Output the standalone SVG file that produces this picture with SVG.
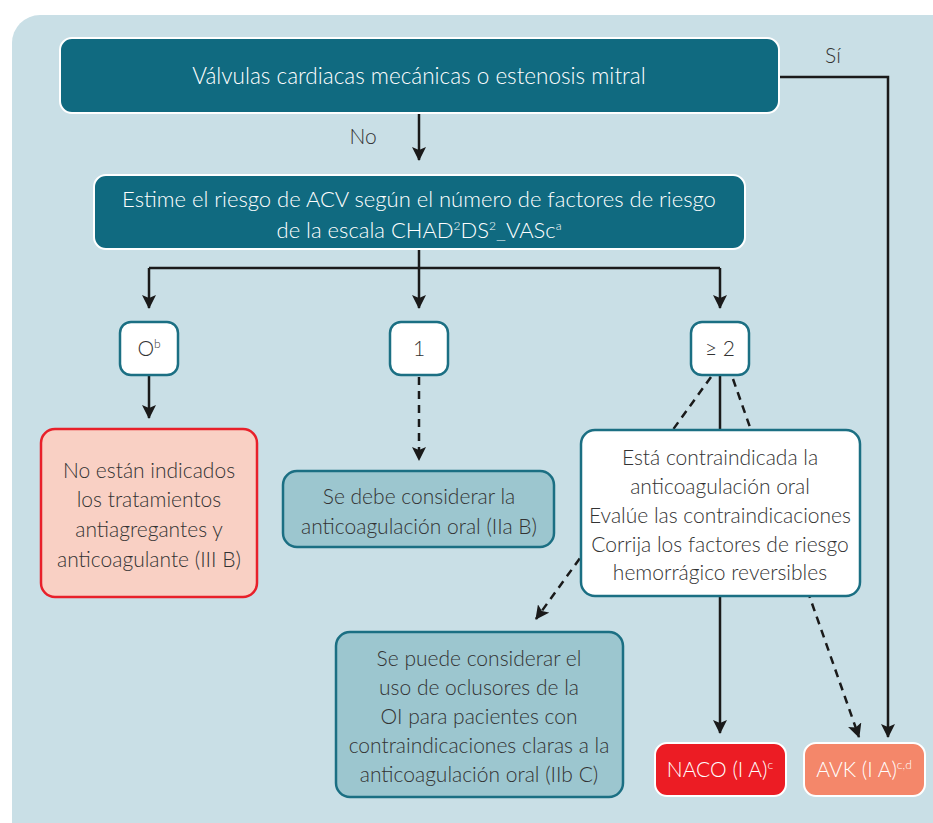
<svg xmlns="http://www.w3.org/2000/svg" width="933" height="823" viewBox="0 0 933 823">
<style>
.t{font-family:Lato,"Open Sans","Liberation Sans",sans-serif;font-size:21px;font-weight:300;text-anchor:middle}
.w{fill:#ffffff}
.d{fill:#333333}
.sup{font-size:12px}
.big{font-size:22.5px}
.mid{font-size:22px}
.ln{stroke:#1a1a1a;stroke-width:2.5;fill:none}
.ds{stroke-dasharray:8 6}
.dark{fill:#106a80;stroke:#ffffff;stroke-width:2}
.wb{fill:#ffffff;stroke:#1b6f83;stroke-width:2.5}
.lb{fill:#9cc6cf;stroke:#1b6f83;stroke-width:2.5}
</style>
<defs>
<marker id="ah" viewBox="0 0 14 14" refX="13" refY="7" markerWidth="14" markerHeight="14" markerUnits="userSpaceOnUse" orient="auto">
<path d="M0,0 L14,7 L0,14 L3,7 Z" fill="#1a1a1a"/>
</marker>
</defs>
<rect x="0" y="0" width="933" height="823" fill="#ffffff"/>
<rect x="12" y="15" width="960" height="860" rx="28" fill="#c9dfe6"/>
<g id="connectors">
<path class="ln" d="M779,77 H888 V737" marker-end="url(#ah)"/>
<path class="ln" d="M419,113 V160" marker-end="url(#ah)"/>
<path class="ln" d="M419,249 V268"/>
<path class="ln" d="M149,268 H720"/>
<path class="ln" d="M149,268 V308" marker-end="url(#ah)"/>
<path class="ln" d="M419,268 V308" marker-end="url(#ah)"/>
<path class="ln" d="M720,268 V308" marker-end="url(#ah)"/>
<path class="ln" d="M149,375 V418" marker-end="url(#ah)"/>
<path class="ln ds" d="M419,377 V460" marker-end="url(#ah)"/>
<path class="ln" d="M720,375 V430"/>
<path class="ln ds" d="M711,377 L536,619" marker-end="url(#ah)"/>
<path class="ln ds" d="M733,379 L859,737" marker-end="url(#ah)"/>
<path class="ln" d="M720,596 V733" marker-end="url(#ah)"/>
<text class="t d" x="363" y="144">No</text>
<text class="t d" x="833" y="63">Sí</text>
</g>
<g id="n-valvulas">
<rect class="dark" x="60" y="38" width="719" height="75" rx="12"/>
<text class="t w big" x="419" y="84">Válvulas cardiacas mecánicas o estenosis mitral</text>
</g>
<g id="n-estime">
<rect class="dark" x="94" y="175" width="651" height="74" rx="12"/>
<text class="t w mid" x="419" y="207">Estime el riesgo de ACV según el número de factores de riesgo</text>
<text class="t w mid" x="419" y="238">de la escala CHAD<tspan class="sup" dy="-8">2</tspan><tspan dy="8">DS</tspan><tspan class="sup" dy="-8">2</tspan><tspan dy="8">_VASc</tspan><tspan class="sup" dy="-8">a</tspan></text>
</g>
<g id="n-0">
<rect class="wb" x="120" y="322" width="58" height="53" rx="11"/>
<text class="t d" x="149" y="356">O<tspan class="sup" dy="-8">b</tspan></text>
</g>
<g id="n-1">
<rect class="wb" x="390" y="322" width="58" height="53" rx="11"/>
<text class="t d" x="419" y="356">1</text>
</g>
<g id="n-2">
<rect class="wb" x="691" y="322" width="58" height="53" rx="11"/>
<text class="t d" x="720" y="356">≥ 2</text>
</g>
<g id="n-no">
<rect x="41" y="429" width="216" height="168" rx="14" fill="#f9d0c4" stroke="#e8202a" stroke-width="2.5"/>
<text class="t d" x="149" y="478">No están indicados</text>
<text class="t d" x="149" y="507">los tratamientos</text>
<text class="t d" x="149" y="537">antiagregantes y</text>
<text class="t d" x="149" y="567">anticoagulante (III B)</text>
</g>
<g id="n-debe">
<rect class="lb" x="283" y="471" width="271" height="76" rx="14"/>
<text class="t d" x="419" y="504">Se debe considerar la</text>
<text class="t d" x="419" y="534">anticoagulación oral (IIa B)</text>
</g>
<g id="n-contra">
<rect class="wb" x="581" y="430" width="279" height="166" rx="14"/>
<text class="t d" x="720" y="465">Está contraindicada la</text>
<text class="t d" x="720" y="494">anticoagulación oral</text>
<text class="t d" x="720" y="523">Evalúe las contraindicaciones</text>
<text class="t d" x="720" y="552">Corrija los factores de riesgo</text>
<text class="t d" x="720" y="580">hemorrágico reversibles</text>
</g>
<g id="n-oi">
<rect class="lb" x="336" y="632" width="287" height="165" rx="14"/>
<text class="t d" x="479" y="666">Se puede considerar el</text>
<text class="t d" x="479" y="695">uso de oclusores de la</text>
<text class="t d" x="479" y="724">OI para pacientes con</text>
<text class="t d" x="479" y="753">contraindicaciones claras a la</text>
<text class="t d" x="479" y="782">anticoagulación oral (IIb C)</text>
</g>
<g id="n-naco">
<rect x="655" y="743" width="131" height="53" rx="12" fill="#ec1c24" stroke="#ffffff" stroke-width="2"/>
<text class="t w" x="720" y="777">NACO (I A)<tspan class="sup" dy="-8">c</tspan></text>
</g>
<g id="n-avk">
<rect x="804" y="743" width="121" height="53" rx="12" fill="#f4876a" stroke="#ffffff" stroke-width="2"/>
<text class="t w" x="864" y="777">AVK (I A)<tspan class="sup" dy="-8">c,d</tspan></text>
</g>
</svg>
